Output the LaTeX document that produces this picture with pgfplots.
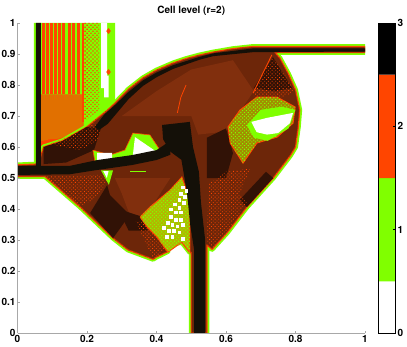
\documentclass[border=0pt]{standalone}
\usepackage{fontspec}
\setmainfont{TeX Gyre Heros}
\usepackage{pgfplots}
\pgfplotsset{compat=1.18}
\usepackage{pgfplotstable}
\usetikzlibrary{patterns.meta}
\definecolor{lg}{HTML}{80FF00}
\definecolor{lo}{HTML}{FF4500}
\definecolor{bk}{HTML}{141008}
\definecolor{br}{HTML}{8E320C}
\definecolor{brl}{HTML}{A83E12}
\definecolor{brd}{HTML}{401808}
\definecolor{gax}{HTML}{A8A8A8}
\pgfplotsset{speck/.style={draw=none,pattern={Dots[distance=2.6pt,radius=.6pt,angle=45]},pattern color=lo},
  fine/.style={draw=none,pattern={Dots[distance=2pt,radius=.62pt]},pattern color=black}}
\pgfplotstableread{
x y
0 0.505
0.079 0.505
0.18 0.407
0.275 0.306
0.318 0.268
0.39 0.238
0.40 0.245
0.433 0.263
0.42 0.28
0.473 0.293
0.496 0.26
0.5 0.26
0.5 0
0.545 0
0.545 0.284
0.56 0.27
0.603 0.323
0.66 0.406
0.736 0.5
0.785 0.572
0.80 0.60
0.808 0.665
0.812 0.72
0.80 0.784
0.78 0.835
0.755 0.887
0.741 0.905
1 0.905
1 0.924
0.678 0.924
0.62 0.917
0.563 0.906
0.525 0.897
0.485 0.885
0.448 0.871
0.40 0.848
0.361 0.823
0.32 0.787
0.281 0.742
0.26 0.72
0.2 0.665
0.13 0.62
0.075 0.6
0.06 0.545
0 0.542
0 0.505
}\blob
\begin{document}
\begin{tikzpicture}[x=1pt,y=1pt]
\useasboundingbox (0,0) rectangle (407,346);
\begin{axis}[
  at={(17.5pt,13pt)},anchor=south west,
  scale only axis,width=347.5pt,height=310pt,
  xmin=0,xmax=1,ymin=0,ymax=1,
  axis x line*=bottom,axis y line*=left,
  axis line style={gax,line width=0.9pt,-},
  xtick={0,0.2,0.4,0.6,0.8,1},ytick={0,0.1,...,1},
  tick style={gax,line width=0.5pt},
  major tick length=2pt,
  tick align=inside,
  /pgf/number format/assume math mode=true,
  ticklabel style={font=\fontsize{10}{10}\selectfont\bfseries,black},
  xticklabel style={yshift=1pt},
  yticklabel style={xshift=1.5pt},
  title={\fontsize{10}{10}\selectfont\bfseries Cell level (r=2)},
  title style={at={(0.5,1)},anchor=south,yshift=-2pt},
  axis on top,
]
% top-left refined block
\addplot[fill=lg,draw=none] coordinates {(0.047,0.54)(0.047,1)(0.281,1)(0.281,0.72)(0.2,0.6)(0.047,0.54)};
% orange/green stripes
\addplot[fill=lo,draw=none] coordinates {(0.067,0.60)(0.067,0.77)(0.19,0.77)(0.19,0.66)(0.13,0.62)(0.067,0.60)};
\addplot[draw=none,pattern={Dots[distance=2pt,radius=.6pt]},pattern color=lg] coordinates {(0.067,0.62)(0.067,0.77)(0.19,0.77)(0.19,0.66)(0.13,0.63)(0.067,0.62)};
\addplot[lo,line width=2.6pt,unbounded coords=jump] coordinates {
(0.075,0.77)(0.075,1)(0.075,nan)
(0.087,0.77)(0.087,1)(0.087,nan)
(0.098,0.77)(0.098,1)(0.098,nan)
(0.110,0.77)(0.110,1)(0.110,nan)
(0.121,0.77)(0.121,1)(0.121,nan)
(0.133,0.77)(0.133,1)(0.133,nan)
(0.150,0.77)(0.150,1)(0.150,nan)
(0.162,0.77)(0.162,1)(0.162,nan)
(0.176,0.77)(0.176,1)(0.176,nan)
(0.188,0.68)(0.188,1)
};
\addplot[draw=none,pattern={Dots[distance=2.8pt,radius=.9pt,angle=45]},pattern color=lo] coordinates {(0.19,0.68)(0.19,1)(0.235,1)(0.235,0.72)(0.19,0.68)};
\addplot[fill=white,draw=none] coordinates {(0.241,0.79)(0.241,1)(0.258,1)(0.258,0.79)(0.241,0.79)};
\addplot[fill=white,draw=none] coordinates {(0.249,0.76)(0.249,0.83)(0.262,0.83)(0.262,0.76)(0.249,0.76)};
\addplot[only marks,mark=diamond*,mark size=2.6pt,mark options={fill=lo,draw=lo}] coordinates {(0.262,0.974)(0.262,0.842)};
% main blob
\addplot[draw=lg,line width=5pt,line join=round] table {\blob};
\addplot[fill=br,draw=lo,line width=1.4pt,line join=round] table {\blob};
% lighter interior
\addplot[fill=brl,draw=none] coordinates {(0.30,0.70)(0.40,0.78)(0.50,0.85)(0.62,0.88)(0.68,0.78)(0.60,0.65)(0.52,0.64)(0.50,0.70)(0.40,0.70)(0.30,0.70)};
\addplot[fill=brl,draw=none] coordinates {(0.28,0.50)(0.44,0.50)(0.37,0.38)(0.33,0.36)(0.30,0.45)(0.28,0.50)};
% dark areas
\addplot[fill=brd,draw=none] coordinates {(0.209,0.387)(0.275,0.306)(0.323,0.381)(0.266,0.445)(0.258,0.477)(0.209,0.387)};
\addplot[fill=brd,draw=none] coordinates {(0.66,0.406)(0.736,0.5)(0.715,0.52)(0.64,0.43)(0.66,0.406)};
\addplot[fill=brd,draw=none] coordinates {(0.075,0.545)(0.075,0.6)(0.13,0.62)(0.2,0.665)(0.24,0.66)(0.22,0.59)(0.14,0.55)(0.075,0.545)};
\addplot[fill=brd,draw=none] coordinates {(0.545,0.50)(0.545,0.63)(0.60,0.66)(0.62,0.58)(0.60,0.50)(0.545,0.50)};
\addplot[fill=brd,draw=none] coordinates {(0.29,0.40)(0.40,0.36)(0.37,0.33)(0.32,0.33)(0.29,0.40)};
\addplot[fill=brd,draw=none] coordinates {(0.68,0.79)(0.735,0.89)(0.79,0.79)(0.74,0.78)(0.68,0.79)};
\addplot[fine] table {\blob};
% speckles
\addplot[speck] coordinates {(0.08,0.505)(0.18,0.41)(0.22,0.43)(0.26,0.49)(0.24,0.51)(0.08,0.505)};
\addplot[speck] coordinates {(0.56,0.27)(0.603,0.33)(0.66,0.42)(0.64,0.45)(0.67,0.53)(0.60,0.52)(0.55,0.48)(0.545,0.3)(0.56,0.27)};
\addplot[speck] coordinates {(0.68,0.78)(0.735,0.89)(0.80,0.78)(0.76,0.76)(0.68,0.76)(0.68,0.78)};
\addplot[speck] coordinates {(0.09,0.61)(0.2,0.66)(0.25,0.70)(0.23,0.62)(0.18,0.59)(0.09,0.61)};
\addplot[speck] coordinates {(0.34,0.36)(0.39,0.24)(0.43,0.27)(0.40,0.31)(0.37,0.36)(0.34,0.36)};
\addplot[lo,line width=0.9pt] coordinates {(0.678,0.774)(0.732,0.897)};
\addplot[lo,line width=0.8pt] coordinates {(0.46,0.71)(0.47,0.76)(0.485,0.80)};
% right green patch
\addplot[draw=lo,line width=1pt,fill=lg!50!lo!85!black] coordinates {(0.606,0.665)(0.640,0.719)(0.689,0.761)(0.747,0.761)(0.799,0.729)(0.793,0.677)(0.747,0.632)(0.689,0.613)(0.649,0.548)(0.612,0.613)(0.606,0.665)};
\addplot[draw=none,pattern={Dots[distance=2.6pt,radius=.8pt,angle=45]},pattern color=lg] coordinates {(0.606,0.665)(0.640,0.719)(0.689,0.761)(0.747,0.761)(0.799,0.729)(0.793,0.677)(0.747,0.632)(0.689,0.613)(0.649,0.548)(0.612,0.613)(0.606,0.665)};
\addplot[fill=lg,draw=none] coordinates {(0.66,0.67)(0.70,0.72)(0.76,0.73)(0.80,0.72)(0.78,0.66)(0.72,0.62)(0.68,0.63)(0.66,0.67)};
\addplot[fill=white,draw=none] coordinates {(0.673,0.681)(0.718,0.694)(0.793,0.710)(0.784,0.677)(0.750,0.645)(0.718,0.64)(0.688,0.648)(0.673,0.681)};
% lower green patch
\addplot[draw=lo,line width=1pt,fill=lg!60!lo] coordinates {(0.353,0.374)(0.381,0.406)(0.439,0.461)(0.473,0.503)(0.496,0.429)(0.496,0.258)(0.473,0.293)(0.433,0.261)(0.401,0.31)(0.373,0.342)(0.353,0.374)};
\addplot[draw=none,pattern={Dots[distance=2.6pt,radius=.8pt,angle=45]},pattern color=lg] coordinates {(0.353,0.374)(0.381,0.406)(0.439,0.461)(0.473,0.503)(0.496,0.429)(0.496,0.258)(0.473,0.293)(0.433,0.261)(0.401,0.31)(0.373,0.342)(0.353,0.374)};
\addplot[only marks,mark=square*,mark size=1.3pt,mark options={fill=white,draw=white}] coordinates {
(0.475,0.47)(0.485,0.46)(0.47,0.45)(0.482,0.44)(0.465,0.43)(0.478,0.42)(0.452,0.415)(0.465,0.405)(0.44,0.40)(0.455,0.39)(0.47,0.39)(0.44,0.375)(0.455,0.365)(0.47,0.365)(0.432,0.355)(0.445,0.35)(0.46,0.345)(0.475,0.35)(0.42,0.34)(0.435,0.33)(0.45,0.33)(0.465,0.325)(0.43,0.31)(0.445,0.31)(0.475,0.305)};
% central green and white
\addplot[fill=lg,draw=lo,line width=.6pt] coordinates {(0.217,0.590)(0.266,0.574)(0.309,0.590)(0.332,0.645)(0.381,0.639)(0.41,0.590)(0.324,0.558)(0.223,0.552)(0.217,0.590)};
\addplot[fill=white,draw=none] coordinates {(0.338,0.632)(0.401,0.584)(0.332,0.574)(0.338,0.632)};
\addplot[fill=white,draw=none] coordinates {(0.229,0.581)(0.272,0.581)(0.272,0.558)(0.229,0.558)(0.229,0.581)};
\addplot[fill=lg,draw=none] coordinates {(0.24,0.525)(0.275,0.525)(0.263,0.478)(0.24,0.525)};
\addplot[fill=white,draw=none] coordinates {(0.247,0.522)(0.262,0.522)(0.257,0.50)(0.247,0.522)};
\addplot[lg,line width=0.8pt] coordinates {(0.325,0.522)(0.37,0.522)};
% black features
\addplot[fill=bk,draw=none] coordinates {(0.053,0.53)(0.053,1)(0.067,1)(0.067,0.53)(0.053,0.53)};
\addplot[fill=bk,draw=none] coordinates {(0,0.539)(0.15,0.539)(0.23,0.558)(0.33,0.574)(0.40,0.59)(0.44,0.62)(0.44,0.575)(0.40,0.558)(0.33,0.542)(0.23,0.526)(0.15,0.512)(0,0.51)(0,0.539)};
\addplot[fill=bk,draw=none] coordinates {(0.416,0.671)(0.496,0.681)(0.505,0.6)(0.5,0.55)(0.47,0.56)(0.44,0.585)(0.419,0.625)(0.416,0.671)};
\addplot[fill=bk,draw=none] coordinates {(0.47,0.57)(0.488,0.45)(0.497,0.35)(0.508,0.27)(0.508,0)(0.54,0)(0.54,0.3)(0.528,0.42)(0.522,0.52)(0.505,0.6)(0.47,0.57)};
\addplot[fill=bk,draw=none] coordinates {(0.222,0.665)(0.25,0.705)(0.285,0.74)(0.32,0.778)(0.361,0.815)(0.40,0.84)(0.448,0.864)(0.525,0.891)(0.563,0.902)(0.678,0.918)(1,0.918)(1,0.908)(0.678,0.906)(0.563,0.893)(0.525,0.882)(0.448,0.852)(0.40,0.825)(0.361,0.797)(0.32,0.755)(0.29,0.715)(0.26,0.675)(0.235,0.655)(0.222,0.665)};
\end{axis}
% colour bar
\begin{axis}[
  at={(378pt,13pt)},anchor=south west,
  scale only axis,width=17pt,height=310pt,
  xmin=0,xmax=1,ymin=0,ymax=3,
  xtick=\empty,ytick={0,1,2,3},
  ytick pos=right,
  tick style={black,line width=0.4pt},
  major tick length=2pt,
  tick align=inside,
  /pgf/number format/assume math mode=true,
  ticklabel style={font=\fontsize{10}{10}\selectfont\bfseries,black},
  yticklabel style={xshift=-1pt},
  axis line style={black,line width=0.5pt},
  axis on top,
]
\addplot[fill=white,draw=none] coordinates {(0,0)(1,0)(1,0.5)(0,0.5)(0,0)};
\addplot[fill=lg,draw=none] coordinates {(0,0.5)(1,0.5)(1,1.5)(0,1.5)(0,0.5)};
\addplot[fill=lo,draw=none] coordinates {(0,1.5)(1,1.5)(1,2.5)(0,2.5)(0,1.5)};
\addplot[fill=black,draw=none] coordinates {(0,2.5)(1,2.5)(1,3)(0,3)(0,2.5)};
\addplot[gax,line width=1pt,forget plot,clip=false] coordinates {(0,0)(0,3)(1,3)};
\end{axis}
\end{tikzpicture}
\end{document}
